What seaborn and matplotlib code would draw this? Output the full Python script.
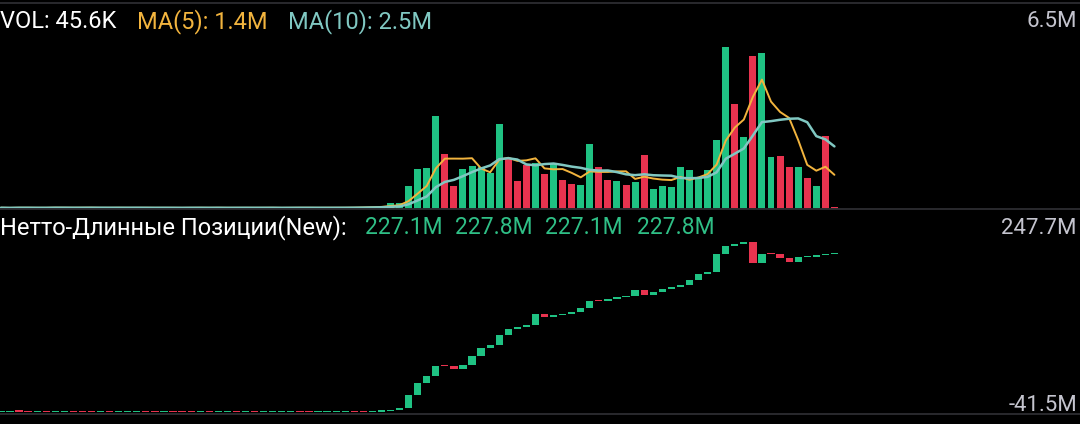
import matplotlib
matplotlib.use("Agg")
import matplotlib.pyplot as plt
from matplotlib.lines import Line2D
import numpy as np
import pandas as pd
import seaborn as sns

# volume (millions): 43 near-zero bars, then the active stretch
lead_vol = [0.03, 0.02, 0.04, 0.03, 0.02, 0.03, 0.05, 0.03, 0.02, 0.03, 0.04,
            0.02, 0.03, 0.03, 0.02, 0.04, 0.03, 0.02, 0.03, 0.02, 0.03, 0.04,
            0.03, 0.02, 0.03, 0.02, 0.04, 0.03, 0.02, 0.03, 0.03, 0.02, 0.04,
            0.03, 0.03, 0.02, 0.03, 0.04, 0.03, 0.05, 0.06, 0.08, 0.10]
lead_dir = list("grrgrgrrgrgrggrrgrgrrgrgrrgggrrgrgrrgggrggg")
main_vol = [0.21, 0.21, 0.89, 1.58, 1.64, 3.74, 2.18, 0.90, 1.57, 1.73,
            1.67, 1.42, 3.41, 1.98, 1.11, 1.77, 1.83, 1.38, 1.80, 1.16,
            1.00, 0.93, 2.58, 1.69, 1.16, 1.11, 0.94, 1.05, 2.14, 0.79,
            0.89, 0.85, 1.69, 1.56, 1.26, 1.56, 2.77, 6.50, 4.19, 2.88,
            6.13, 6.24, 2.07, 2.11, 1.67, 1.69, 1.24, 0.90, 2.90, 0.0456]
main_dir = list("ggggggrrgggggrrrgrgrrggrrgrgr" + "ggggggggg" + "rgrggrrgrgrr")

# net long positions (millions), close of each candle
lead_close = [-41.0, -40.6, -40.9, -41.3, -41.0, -41.4, -41.2, -41.0, -41.2,
              -41.3, -41.5, -41.1, -41.3, -41.2, -41.0, -40.9, -41.2, -41.3,
              -41.1, -41.2, -41.3, -41.4, -41.2, -41.3, -41.1, -41.0, -41.3,
              -41.2, -41.4, -41.3, -41.2, -41.1, -41.0, -41.1, -41.3, -41.2,
              -41.1, -41.0, -40.9, -41.0, -41.1, -40.8, -40.3]
main_close = [-38.1, -35.2, -13.1, 7.3, 19.8, 37.3, 37.0, 32.2, 39.0, 54.3,
              67.4, 72.0, 90.0, 99.2, 103.1, 106.5, 124.7, 120.6, 124.0, 124.5,
              128.6, 135.4, 147.3, 147.0, 150.7, 153.6, 155.8, 165.5, 158.1, 163.2,
              168.3, 170.6, 174.0, 183.1, 193.8, 197.2, 226.8, 240.3, 244.3, 247.7,
              212.5, 227.3, 227.0, 221.1, 214.2, 221.6, 222.7, 225.0, 227.1, 227.8]

vol = np.array(lead_vol + main_vol)
vol_dir = ["up" if d == "g" else "down" for d in lead_dir[:len(lead_vol)] + main_dir]
close = np.array(lead_close + main_close)
open_ = np.concatenate([[close[0]], close[:-1]])
idx = np.arange(len(vol))

df = pd.DataFrame({"i": idx, "vol": vol, "dir": vol_dir})
df["ma5"] = df["vol"].rolling(5, min_periods=1).mean()
df["ma10"] = df["vol"].rolling(10, min_periods=1).mean()

GREEN = "#1fc283"
RED = "#e8334f"
ORANGE = "#f2b43e"
TEAL = "#80c8c2"
GREY = "#c4c4ce"

sns.set_style("dark")
plt.rcParams["font.family"] = ["Roboto", "DejaVu Sans"]

W, H = 1080, 424
fig = plt.figure(figsize=(W / 100, H / 100), dpi=100, facecolor="black")

def fx(x):
    return x / W

def fy(y):
    return 1 - y / H

step = 9.06
xlim = (-0.1, W / step - 0.1)

# volume panel
ax = fig.add_axes([0, fy(208.5), 1, (208.5 - 3) / H])
ax.set_facecolor("black")
sns.barplot(data=df, x="i", y="vol", hue="dir", palette={"up": GREEN, "down": RED},
            native_scale=True, width=0.77, saturation=1, errorbar=None,
            legend=False, linewidth=0, edgecolor="none", ax=ax)
sns.lineplot(data=df, x="i", y="ma5", color=ORANGE, lw=1.4, ax=ax)
sns.lineplot(data=df, x="i", y="ma10", color=TEAL, lw=1.8, ax=ax)
vmax = vol.max()
ax.set_ylim(0, vmax * 205.5 / 161.5)
ax.set_xlim(*xlim)
ax.axis("off")

# net long candles
ax2 = fig.add_axes([0, fy(414), 1, (414 - 208.5) / H])
ax2.set_facecolor("black")
cmax, cmin = max(open_.max(), close.max()), min(open_.min(), close.min())
per_px = (cmax - cmin) / 170.0
body = np.maximum(np.abs(close - open_), 1.2 * per_px)
bottom = np.minimum(open_, close)
colors = [GREEN if c >= o else RED for o, c in zip(open_, close)]
ax2.bar(idx, body, bottom=bottom, width=0.8, color=colors, linewidth=0)
ax2.set_ylim(cmin - 2 * per_px, cmax + 33.5 * per_px)
ax2.set_xlim(*xlim)
ax2.axis("off")

# separators
for y in (3, 208.5, 414):
    fig.add_artist(Line2D([0, 1], [fy(y), fy(y)], color="#2a2a2e", lw=1.4))

fs = 17
last_ma5 = df["ma5"].iloc[-1]
last_ma10 = df["ma10"].iloc[-1]
fig.text(fx(0), fy(21.5), f"VOL: {vol[-1] * 1000:.1f}K", color="white",
         fontsize=fs, va="center", ha="left")
fig.text(fx(137), fy(21.5), f"MA(5): {last_ma5:.1f}M", color=ORANGE,
         fontsize=fs, va="center", ha="left")
fig.text(fx(288), fy(21.5), f"MA(10): {last_ma10:.1f}M", color=TEAL,
         fontsize=fs, va="center", ha="left")

fig.text(fx(0), fy(228), "Нетто-Длинные Позиции(New):", color="white",
         fontsize=fs, va="center", ha="left")
o, c = open_[-1], close[-1]
ohlc = [o, max(o, c), min(o, c), c]
for x, v in zip([365, 455, 545, 637], ohlc):
    fig.text(fx(x), fy(228), f"{v:.1f}M", color="#2fbf86", fontsize=16.5,
             va="center", ha="left")

fig.text(fx(1077), fy(21.5), f"{vmax:.1f}M", color=GREY, fontsize=16,
         va="center", ha="right")
fig.text(fx(1077), fy(228), f"{cmax:.1f}M", color=GREY, fontsize=16,
         va="center", ha="right")
fig.text(fx(1077), fy(405.5), f"{cmin:.1f}M", color=GREY, fontsize=16,
         va="center", ha="right")

fig.savefig("out.png", dpi=100, facecolor="black")
plt.close(fig)
